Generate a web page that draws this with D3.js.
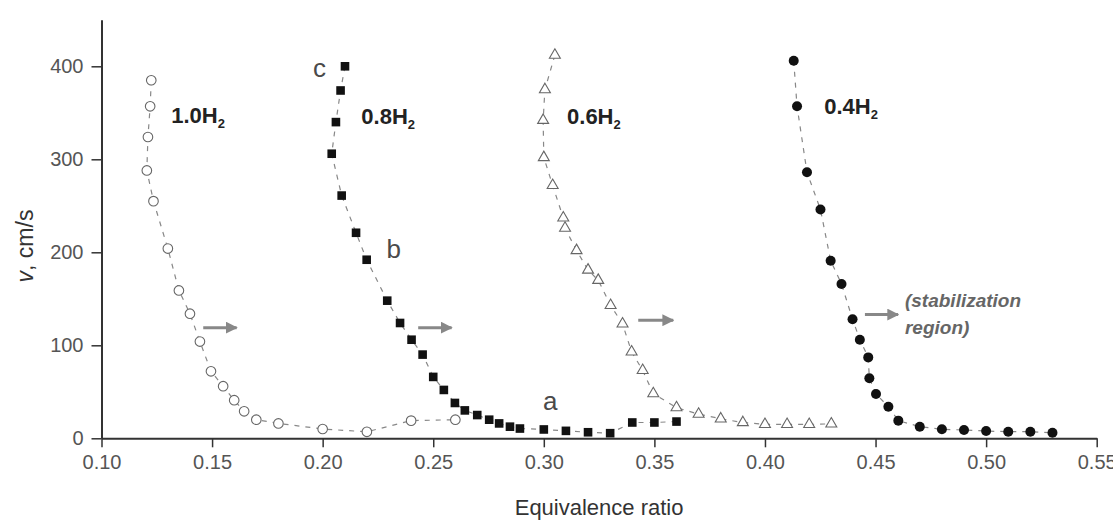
<html>
<head>
<meta charset="utf-8">
<script src="https://d3js.org/d3.v7.min.js"></script>
<style>
body { margin: 0; background: #fff; }
svg { font-family: "Liberation Sans", Arial, sans-serif; }
</style>
</head>
<body>
<script>
// values
var phi10 = [0.1225, 0.122, 0.121, 0.1205, 0.1235, 0.13, 0.135, 0.14, 0.1445, 0.1495, 0.155, 0.16, 0.1645, 0.17, 0.18, 0.20, 0.22, 0.24, 0.26];
var v10 = [385, 357, 324, 288, 255, 204, 159, 134, 104, 72, 56, 41, 29, 20, 16, 10, 7, 19, 20];

var phi08 = [0.2101, 0.2081, 0.206, 0.2041, 0.2086, 0.2151, 0.2199, 0.2292, 0.235, 0.2402, 0.2452, 0.25, 0.2548, 0.2598, 0.2643, 0.2699, 0.2753, 0.2798, 0.2847, 0.2892, 0.30, 0.31, 0.32, 0.33, 0.34, 0.35, 0.36];
var v08 = [400, 374, 340, 306, 261, 221, 192, 148, 124, 106, 90, 66, 52, 38, 30, 25, 20, 16, 12.5, 10.5, 9.5, 8, 6.5, 5.5, 17, 17, 18];

var phi06 = [0.305, 0.3005, 0.2997, 0.300, 0.304, 0.3088, 0.3096, 0.3148, 0.32, 0.3246, 0.3302, 0.3356, 0.3397, 0.3447, 0.3495, 0.36, 0.37, 0.38, 0.39, 0.40, 0.41, 0.42, 0.43];
var v06 = [412, 375, 342, 302, 272, 237, 226, 202, 181, 170, 143, 123, 93, 73, 48, 33, 26, 21, 17, 15, 15, 15, 15.5];

var phi04 = [0.413, 0.4145, 0.419, 0.4251, 0.4297, 0.4346, 0.4396, 0.4429, 0.4467, 0.4472, 0.4502, 0.4558, 0.4603, 0.47, 0.48, 0.49, 0.50, 0.51, 0.52, 0.53];
var v04 = [406, 357, 286, 246, 191, 166, 128, 106, 87, 64.5, 47.6, 34, 19, 12.5, 9.7, 8.9, 7.8, 7.1, 7.1, 6];

var xTicks = [0.10, 0.15, 0.20, 0.25, 0.30, 0.35, 0.40, 0.45, 0.50, 0.55];
var yTicks = [0, 100, 200, 300, 400];

// arrows (stabilization direction)
var arrowFrom = [0.146, 0.2432, 0.3427, 0.4452];
var arrowTo = [0.1611, 0.2583, 0.3585, 0.4602];
var arrowV = [119, 119, 127, 133];

// series labels
var labelNames = ["1.0", "0.8", "0.6", "0.4"];
var labelPhi = [0.1315, 0.2175, 0.3105, 0.4268];
var labelV = [339, 338, 338, 349];

// letters a, b, c
var letters = ["c", "b", "a"];
var letterPhi = [0.1956, 0.2289, 0.2996];
var letterV = [389, 194, 30.5];

var W = 1113, H = 529;
var x = d3.scaleLinear().domain([0.10, 0.55]).range([101.5, 1096.7]);
var y = d3.scaleLinear().domain([0, 450]).range([438.3, 19.8]);

var svg = d3.select("body").append("svg").attr("width", W).attr("height", H);
svg.append("rect").attr("width", W).attr("height", H).attr("fill", "#fff");

function pts(px, pv) { return px.map(function(d, i) { return [d, pv[i]]; }); }

var line = d3.line().x(function(d) { return x(d[0]); }).y(function(d) { return y(d[1]); });

var series = [pts(phi10, v10), pts(phi08, v08), pts(phi06, v06), pts(phi04, v04)];

// dashed connecting lines
series.forEach(function(s) {
  svg.append("path").attr("d", line(s)).attr("fill", "none")
    .attr("stroke", "#888").attr("stroke-width", 1.2).attr("stroke-dasharray", "5,6");
});

// axes
var xAxis = d3.axisBottom(x).tickValues(xTicks).tickFormat(d3.format(".2f"))
  .tickSize(9).tickSizeOuter(0).tickPadding(8);
var yAxis = d3.axisLeft(y).tickValues(yTicks).tickSize(10).tickSizeOuter(0).tickPadding(8);

var gx = svg.append("g").attr("transform", "translate(0," + y(0) + ")").call(xAxis);
var gy = svg.append("g").attr("transform", "translate(" + x(0.10) + ",0)").call(yAxis);
[gx, gy].forEach(function(g) {
  g.select(".domain").attr("stroke", "#333").attr("stroke-width", 2);
  g.selectAll(".tick line").attr("stroke", "#333").attr("stroke-width", 1.5);
  g.selectAll(".tick text").attr("fill", "#555").style("font-size", "20px")
    .style("font-family", "'Liberation Sans', Arial, sans-serif");
});

// markers: 1.0 H2 open circles
svg.append("g").selectAll("circle").data(series[0]).enter().append("circle")
  .attr("cx", function(d) { return x(d[0]); }).attr("cy", function(d) { return y(d[1]); })
  .attr("r", 4.8).attr("fill", "#fff").attr("stroke", "#666").attr("stroke-width", 1.1);

// 0.8 H2 filled squares
svg.append("g").selectAll("rect").data(series[1]).enter().append("rect")
  .attr("x", function(d) { return x(d[0]) - 4.3; }).attr("y", function(d) { return y(d[1]) - 4.3; })
  .attr("width", 8.6).attr("height", 8.6).attr("fill", "#111");

// 0.6 H2 open triangles
var tri = d3.symbol().type(d3.symbolTriangle).size(52);
svg.append("g").selectAll("path").data(series[2]).enter().append("path")
  .attr("d", tri)
  .attr("transform", function(d) { return "translate(" + x(d[0]) + "," + y(d[1]) + ")"; })
  .attr("fill", "#fff").attr("stroke", "#666").attr("stroke-width", 1.1);

// 0.4 H2 filled circles
svg.append("g").selectAll("circle").data(series[3]).enter().append("circle")
  .attr("cx", function(d) { return x(d[0]); }).attr("cy", function(d) { return y(d[1]); })
  .attr("r", 5).attr("fill", "#111");

// arrows
svg.append("defs").append("marker").attr("id", "head")
  .attr("viewBox", "0 0 10 10").attr("refX", 9).attr("refY", 5)
  .attr("markerWidth", 4).attr("markerHeight", 4).attr("orient", "auto")
  .append("path").attr("d", "M0,0L10,5L0,10Z").attr("fill", "#888");
arrowFrom.forEach(function(a, i) {
  svg.append("line").attr("x1", x(a)).attr("x2", x(arrowTo[i]))
    .attr("y1", y(arrowV[i])).attr("y2", y(arrowV[i]))
    .attr("stroke", "#888").attr("stroke-width", 3).attr("marker-end", "url(#head)");
});

// series labels
labelNames.forEach(function(n, i) {
  var t = svg.append("text").attr("x", x(labelPhi[i])).attr("y", y(labelV[i]))
    .attr("fill", "#222").style("font-weight", "bold").style("font-size", "22px");
  t.append("tspan").text(n + "H");
  t.append("tspan").attr("dy", 5).style("font-size", "13px").text("2");
});

letters.forEach(function(l, i) {
  svg.append("text").attr("x", x(letterPhi[i])).attr("y", y(letterV[i]))
    .attr("fill", "#4a4a4a").style("font-size", "26px").text(l);
});

// stabilization region note
svg.append("text").attr("x", x(0.4633)).attr("y", y(141)).attr("fill", "#666")
  .style("font-size", "19px").style("font-style", "italic").style("font-weight", "bold")
  .text("(stabilization");
svg.append("text").attr("x", x(0.4633)).attr("y", y(112)).attr("fill", "#666")
  .style("font-size", "19px").style("font-style", "italic").style("font-weight", "bold")
  .text("region)");

// axis titles
var yt = svg.append("text").attr("transform", "translate(33,246) rotate(-90)")
  .attr("text-anchor", "middle").attr("fill", "#333").style("font-size", "23px");
yt.append("tspan").style("font-style", "italic").text("v");
yt.append("tspan").text(", cm/s");

svg.append("text").attr("x", (x(0.10) + x(0.55)) / 2).attr("y", 515)
  .attr("text-anchor", "middle").attr("fill", "#333").style("font-size", "22px")
  .text("Equivalence ratio");
</script>
</body>
</html>
